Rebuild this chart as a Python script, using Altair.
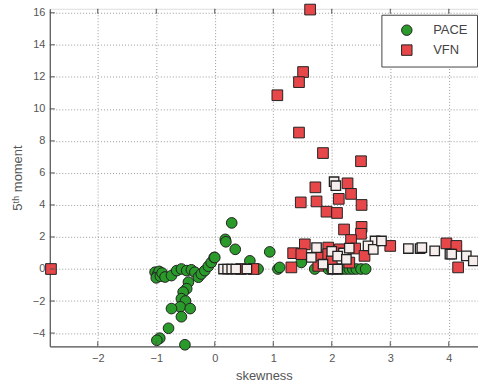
import altair as alt
import pandas as pd

# ---- data ----
pace_x = [-1.02, -0.98, -0.95, -1.0, -0.93, -0.9, -0.85, -0.74, -0.65, -0.57, -0.48, -0.4,
          -0.34, -0.28, -0.23, -0.17, -0.11, -0.06, -0.01, -0.45, -0.48, -0.54, -0.57, -0.5,
          -0.59, -0.74, -0.42, -0.57, -0.79, -0.94, -0.99, -0.51, 0.29, 0.18, 0.19, 0.35,
          0.6, 0.94, 1.08, 0.74, 0.0, 1.11, 1.48, 1.71, 1.94, 2.0, 2.06, 2.12, 2.18, 2.24,
          2.3, 2.36, 2.42, 2.5, 2.58]
pace_y = [-0.2, -0.35, -0.15, -0.55, -0.45, -0.25, -0.5, -0.41, -0.1, 0.0, -0.1, -0.05,
          -0.2, -0.51, -0.31, -0.1, 0.17, 0.41, 0.72, -0.82, -1.23, -1.44, -1.85, -2.0,
          -2.36, -2.47, -2.47, -2.98, -3.7, -4.32, -4.45, -4.73, 2.88, 1.85, 1.7, 1.23,
          0.51, 1.07, 0.0, 0.0, 0.72, 0.1, 0.41, 0.0, 0.0, 0.0, 0.0, 0.0, 0.0, 0.0,
          0.0, 0.0, 0.0, 0.0, 0.0]

vfn_x = [1.63, 1.51, 1.44, 1.07, 1.44, 1.85, 2.5, 2.27, 1.72, 2.33, 2.12, 1.47, 1.74, 2.51,
         1.91, 2.09, 2.21, 2.51, 2.5, 2.33, 1.54, 1.34, 1.94, 2.14, 2.4, 1.8, 1.94, 1.31,
         2.56, 3.0, 3.96, 4.13, 4.16, -2.8, 0.45, 0.66, 1.48, 1.77, 2.0, 2.3]
vfn_y = [16.2, 12.3, 11.67, 10.85, 8.52, 7.24, 6.73, 5.35, 5.1, 4.69, 4.38, 4.16, 4.22, 4.0,
         3.58, 3.5, 2.47, 2.63, 2.2, 1.81, 1.54, 0.99, 1.34, 1.23, 1.28, 0.72, 0.93, 0.1,
         0.82, 1.44, 1.6, 1.44, 0.1, 0.0, 0.0, 0.0, 0.93, 0.2, 0.5, 0.4]

# overlapping VFN markers that render as pale squares
pale_x = [2.04, 2.07, 1.74, 1.65, 2.74, 2.62, 2.71, 2.85, 3.31, 3.51, 3.54, 3.76, 4.02,
          4.05, 4.3, 4.42, 2.0, 2.2, 2.3, 2.1, 0.15, 0.22, 0.29, 0.36, 0.55, 1.85, 2.25,
          2.02, 2.1]
pale_y = [5.45, 5.2, 1.34, 0.72, 1.75, 1.44, 1.23, 1.75, 1.28, 1.28, 1.34, 1.13, 0.93,
          0.93, 0.82, 0.51, 1.1, 1.0, 1.3, 0.8, 0.0, 0.0, 0.0, 0.0, 0.0, 0.3, 0.6,
          0.0, 0.0]

x_ticks = [-2, -1, 0, 1, 2, 3, 4]
y_ticks = [-4, -2, 0, 2, 4, 6, 8, 10, 12, 14, 16]

series_names = ["PACE", "VFN"]
series_colors = ["#2a9a2a", "#e8474a"]
series_shapes = ["circle", "square"]

W, H = 430, 339

df = pd.concat([
    pd.DataFrame({"skewness": pace_x, "moment": pace_y, "series": "PACE"}),
    pd.DataFrame({"skewness": vfn_x, "moment": vfn_y, "series": "VFN"}),
], ignore_index=True)
df["order"] = range(len(df))
pale = pd.DataFrame({"skewness": pale_x, "moment": pale_y})

xscale = alt.Scale(domain=[-2.82, 4.5], nice=False, zero=False)
yscale = alt.Scale(domain=[-4.83, 16.25], nice=False, zero=False)

common_axis = dict(grid=True, gridDash=[1, 2], gridColor="#999", tickSize=0,
                   format="d", labelOverlap=False, labelFont="Liberation Sans",
                   labelFontSize=11, labelColor="#555", titleFont="Liberation Sans",
                   titleFontSize=13, titleFontWeight="normal", titleColor="#555",
                   domainColor="#555", domainWidth=1.2)
xaxis = alt.Axis(values=x_ticks, title="skewness", labelPadding=6, titlePadding=6,
                 **common_axis)
yaxis = alt.Axis(values=y_ticks, title="5ᵗʰ moment", labelPadding=5, titlePadding=8,
                 **common_axis)

points = alt.Chart(df).mark_point(filled=True, size=115, stroke="#222", strokeWidth=1,
                                  opacity=1).encode(
    x=alt.X("skewness:Q", scale=xscale, axis=xaxis),
    y=alt.Y("moment:Q", scale=yscale, axis=yaxis),
    color=alt.Color("series:N", scale=alt.Scale(domain=series_names, range=series_colors),
                    legend=alt.Legend(title=None, orient="none", legendX=333, legendY=6,
                                      strokeColor="#444", fillColor="white", padding=9,
                                      symbolSize=110, symbolStrokeColor="#222",
                                      symbolStrokeWidth=1, labelFontSize=13,
                                      labelOffset=20, rowPadding=5, labelColor="#444",
                                      labelFont="Liberation Sans", symbolOffset=10,
                                      labelLimit=200)),
    shape=alt.Shape("series:N", scale=alt.Scale(domain=series_names, range=series_shapes),
                    legend=None),
    order=alt.Order("order:Q"),
)

pale_pts = alt.Chart(pale).mark_point(shape="square", filled=True, size=90,
                                      fill="#f6eded", stroke="#222", strokeWidth=1.3,
                                      opacity=1).encode(
    x=alt.X("skewness:Q", scale=xscale, axis=xaxis),
    y=alt.Y("moment:Q", scale=yscale, axis=yaxis),
)

xt = pd.DataFrame({"v": x_ticks})
yt = pd.DataFrame({"v": y_ticks})
xtick_bottom = alt.Chart(xt).mark_rule(color="#555").encode(
    x=alt.X("v:Q", scale=xscale, axis=xaxis), y=alt.value(H), y2=alt.value(H - 5))
xtick_top = alt.Chart(xt).mark_rule(color="#555").encode(
    x=alt.X("v:Q", scale=xscale, axis=xaxis), y=alt.value(0), y2=alt.value(5))
ytick_left = alt.Chart(yt).mark_rule(color="#555").encode(
    y=alt.Y("v:Q", scale=yscale, axis=yaxis), x=alt.value(0), x2=alt.value(5))

chart = alt.layer(points, pale_pts, xtick_bottom, xtick_top, ytick_left).properties(
    width=W, height=H,
    padding={"left": 50, "top": 8, "right": 0, "bottom": 40},
    autosize=alt.AutoSizeParams(type="none"),
).configure_view(stroke="#555", strokeWidth=1.2).configure(background="white")

chart.save("out.html", embed_options={"renderer": "svg", "actions": False})
